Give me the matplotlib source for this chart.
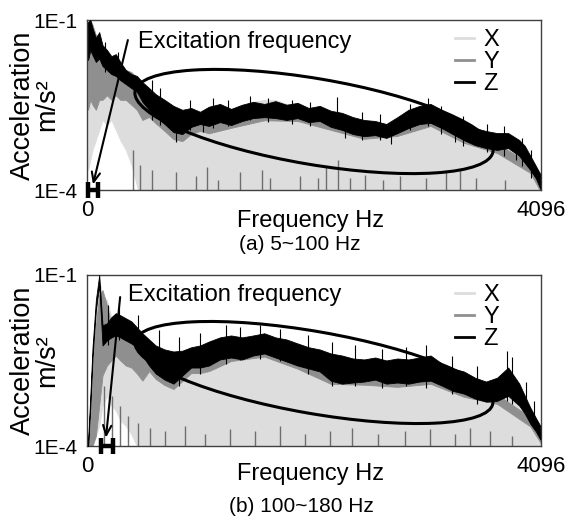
import matplotlib.pyplot as plt
import matplotlib.patches as mpatches
import matplotlib.transforms as mtransforms
from matplotlib.lines import Line2D
from matplotlib.ticker import NullLocator
import numpy as np

plt.rcParams['font.family'] = ['Liberation Sans', 'DejaVu Sans']

W, H = 567, 526

# frequency nodes (Hz) of the envelopes
freq = [10, 30, 50, 80, 110, 140, 180, 220, 260, 300, 350, 400, 450, 500,
        560, 620, 700, 780, 860, 940, 1020, 1100, 1200, 1300, 1400, 1500,
        1600, 1700, 1800, 1900, 2000, 2100, 2200, 2300, 2400, 2500, 2600,
        2700, 2800, 2900, 3000, 3100, 3200, 3300, 3400, 3500, 3600, 3700,
        3800, 3900, 3950, 4000, 4050, 4090]
y_freq = [10, 30, 50, 80, 110, 140, 180, 220, 260, 300, 350, 400, 450, 500,
          560, 620, 700, 780, 860, 940, 1020, 1100, 1300, 1600, 1900, 2200,
          2500, 2800, 3100, 3400, 3700, 4000, 4090]

# ---- (a) 5~100 Hz, values in 1E-3 m/s^2 ----
z_hi_a = [92, 100, 72, 48, 61, 36, 29.6, 23, 25, 18.2, 13.1, 11.1, 10.3, 8.0,
          6.3, 4.9, 3.9, 3.05, 2.6, 2.8, 2.4, 2.95, 3.3, 2.7, 3.2, 3.6, 3.3,
          3.7, 3.2, 3.45, 2.8, 3.05, 2.5, 2.3, 1.93, 1.72, 1.65, 1.46, 1.93,
          2.6, 3.05, 3.3, 2.6, 2.0, 1.58, 1.24, 1.1, 1.01, 1.01, 0.76, 0.6,
          0.4, 0.265, 0.19]
z_lo_a = [19.7, 29.6, 24, 18.2, 21, 15.4, 13.1, 11.1, 10.3, 8.7, 7.4, 6.3,
          5.4, 3.6, 2.6, 2.0, 1.46, 1.05, 0.97, 1.3, 1.46, 1.35, 1.58, 1.40,
          1.65, 1.86, 1.93, 1.86, 1.72, 1.86, 1.58, 1.65, 1.3, 1.15, 0.97,
          0.89, 0.93, 0.83, 1.01, 1.24, 1.46, 1.53, 1.24, 0.97, 0.76, 0.62,
          0.55, 0.51, 0.55, 0.40, 0.30, 0.225, 0.16, 0.105]
x_hi_a = [82, 92, 66.7, 44.4, 44.4, 29.6, 24.1, 19.7, 19.7, 16.1, 12.1, 10.7,
          9.5, 7.4, 3.9, 3.05, 2.4, 1.86, 1.72, 1.86, 1.86, 2.0, 2.4, 2.6,
          3.05, 3.6, 3.9, 3.9, 3.3, 2.8, 2.4, 2.2, 1.86, 1.58, 1.46, 1.35,
          1.35, 1.24, 1.46, 1.86, 2.2, 2.2, 1.86, 1.46, 1.15, 0.97, 0.83,
          0.76, 0.76, 0.55, 0.43, 0.31, 0.21, 0.14]
x_lo_a = [0.225, 0.34, 0.51, 0.76, 1.15, 1.72, 1.40, 1.72, 1.15, 0.76, 0.51,
          0.28, 0.12] + [0.05] * 41
y_hi_a = [92, 100, 82, 54, 54, 32, 24, 19.7, 19.7, 15.5, 13.1, 12.1, 9.5, 6.8,
          3.4, 2.6, 1.9, 1.37, 1.26, 1.7, 1.9, 1.75, 1.8, 2.5, 2.4, 1.7, 1.15,
          1.3, 2.0, 1.0, 0.66, 0.29, 0.14]
y_lo_a = [2.6, 3.9, 3.2, 2.6, 3.9, 3.9, 4.7, 3.9, 4.7, 3.9, 3.9, 3.2, 2.6,
          1.72, 1.95, 1.5, 1.1, 0.79, 0.73, 0.98, 1.1, 1.0, 1.25, 1.7, 1.65,
          1.15, 0.8, 0.9, 1.35, 0.68, 0.45, 0.2, 0.095]
dip_freq_a = [415, 478, 586, 803, 983, 1083, 1182, 1380, 1579, 1651, 1922,
              2084, 2156, 2265, 2373, 2508, 2670, 2824, 3058, 3239, 3365,
              3510, 3771]
dip_top_a = [0.51, 0.28, 0.225, 0.21, 0.18, 0.25, 0.15, 0.21, 0.225, 0.16,
             0.18, 0.16, 0.25, 0.34, 0.16, 0.185, 0.15, 0.18, 0.16, 0.21,
             0.225, 0.16, 0.15]
# single noisy excursions of Z (freq, lower end, upper end)
spk_freq_a = [162, 280, 586, 659, 803, 929, 1047, 1137, 1272, 1471, 1633,
              1850, 2012, 2255, 2326, 2481, 2643, 2742, 2915, 3076, 3194,
              3320, 3392, 3609, 3762, 3870, 3925, 4006]
spk_lo_a = [12.1, 9.5, 1.72, 1.40, 0.70, 1.15, 1.05, 1.24, 1.35, 1.72, 1.58,
            1.46, 1.35, 1.72, 0.83, 0.76, 0.76, 0.65, 1.15, 1.35, 0.97, 0.70,
            0.60, 0.47, 0.40, 0.34, 0.265, 0.16]
spk_hi_a = [40.9, 27.2, 8.7, 6.3, 2.58, 3.87, 2.38, 4.2, 3.87, 4.55, 4.2,
            3.87, 3.57, 4.35, 1.87, 2.38, 2.2, 1.58, 3.3, 4.2, 3.04, 1.40,
            2.03, 1.46, 1.35, 0.76, 0.83, 0.51]
band_a = (5, 100)

# ---- (b) 100~180 Hz ----
z_hi_b = [0.12, 0.76, 5.4, 36.2, 100, 13.1, 14.2, 18.2, 21.4, 19.7, 17.4,
          15.4, 12.1, 9.5, 7.4, 5.8, 4.94, 4.55, 4.7, 5.4, 5.8, 6.8, 8.05,
          8.7, 8.05, 8.7, 9.5, 8.05, 7.4, 6.3, 5.4, 4.94, 4.2, 3.87, 3.43,
          3.3, 3.57, 3.17, 3.43, 3.3, 3.57, 3.87, 2.8, 2.29, 2.03, 1.58, 1.35,
          1.58, 2.38, 1.24, 0.76, 0.47, 0.31, 0.225]
z_lo_b = [0.10, 0.51, 3.57, 24.1, 66.6, 5.8, 7.1, 8.05, 8.7, 8.05, 7.1, 6.3,
          5.4, 3.87, 2.58, 1.87, 1.46, 1.24, 1.72, 2.38, 2.38, 2.58, 3.3, 3.57,
          3.3, 3.87, 4.2, 3.57, 3.04, 2.58, 2.29, 2.03, 1.40, 1.24, 1.30, 1.35,
          1.46, 1.24, 1.30, 1.24, 1.35, 1.40, 1.15, 0.93, 0.83, 0.68, 0.60,
          0.62, 0.76, 0.51, 0.37, 0.245, 0.18, 0.13]
x_hi_b = [0.105, 0.62, 4.7, 32.1, 81.6, 44.4, 36.2, 18.2, 18.2, 16.1, 14.2,
          13.1, 10.7, 7.4, 4.2, 3.3, 2.58, 2.2, 2.58, 3.3, 3.57, 4.2, 4.94,
          5.8, 6.3, 6.8, 6.8, 5.8, 4.55, 3.87, 3.3, 3.04, 2.38, 2.03, 1.87,
          1.87, 2.03, 1.87, 1.87, 1.87, 2.03, 2.2, 1.72, 1.35, 1.15, 0.97,
          0.83, 0.90, 1.24, 0.76, 0.51, 0.34, 0.225, 0.15]
x_lo_b = [0.10, 0.10, 0.12, 0.15, 0.225, 0.51, 0.76, 0.51, 0.42, 0.28, 0.225,
          0.16, 0.10] + [0.05] * 41
y_hi_b = [0.10, 0.51, 2.58, 13.1, 44.4, 54.3, 29.6, 13.1, 10.7, 9.5, 8.05,
          7.1, 5.8, 4.2, 3.35, 2.4, 1.9, 1.6, 2.2, 3.1, 3.1, 3.35, 4.6, 5.5,
          3.4, 1.8, 1.75, 1.6, 1.8, 1.08, 0.8, 0.32, 0.17]
y_lo_b = [0.10, 0.10, 0.10, 0.15, 0.51, 1.72, 2.58, 3.17, 3.87, 3.17, 2.58,
          2.38, 1.87, 1.40, 2.06, 1.5, 1.17, 1.0, 1.38, 1.9, 1.9, 2.06, 3.1,
          3.7, 2.27, 1.23, 1.19, 1.09, 1.23, 0.73, 0.55, 0.22, 0.115]
dip_freq_b = [153, 226, 298, 370, 460, 568, 704, 884, 1065, 1290, 1516, 1742,
              1967, 2193, 2391, 2626, 2869, 3095, 3320, 3455, 3636, 3834]
dip_top_b = [1.15, 0.76, 0.51, 0.34, 0.25, 0.21, 0.185, 0.225, 0.16, 0.195,
             0.18, 0.225, 0.16, 0.185, 0.21, 0.16, 0.18, 0.195, 0.16, 0.21,
             0.18, 0.15]
spk_freq_b = [190, 289, 460, 650, 830, 1020, 1255, 1380, 1560, 1740, 1990,
              2210, 2420, 2660, 2880, 3060, 3290, 3520, 3790, 3830, 3960, 4030]
spk_lo_b = [5.8, 7.1, 4.7, 1.87, 1.15, 1.87, 2.8, 3.17, 3.3, 3.04, 1.87,
            1.15, 1.15, 1.05, 1.15, 1.05, 0.83, 0.55, 0.62, 0.55, 0.40, 0.21]
spk_hi_b = [29.6, 27.2, 19.7, 10.7, 8.05, 9.5, 13.1, 12.1, 13.1, 11.1, 8.7,
            6.8, 5.8, 4.94, 5.4, 5.8, 3.87, 2.58, 4.55, 3.57, 1.35, 0.62]
band_b = (125, 235)

labels = ["X", "Y", "Z"]
colors = ["#dddddd", "#8f8f8f", "black"]

fig = plt.figure(figsize=(W / 100, H / 100), dpi=100)
pix = mtransforms.Affine2D().scale(1 / W, -1 / H).translate(0, 1) + fig.transFigure


def mm(v):
    return np.array(v) * 1e-3


def draw_panel(ax, z_hi, z_lo, x_hi, x_lo, y_hi, y_lo, dip_f, dip_t,
               spk_f, spk_lo, spk_hi, band, tip, tail, text_xy, ell, xlab_y):
    ax.fill_between(freq, mm(x_lo), mm(x_hi), color=colors[0], lw=0.6, zorder=1)
    ax.fill_between(y_freq, mm(y_lo), mm(y_hi), color=colors[1], lw=0.6, zorder=2)
    ax.vlines(dip_f, 5e-5, mm(dip_t), color="#6e6e6e", lw=1.0, zorder=2)
    ax.fill_between(freq, mm(z_lo), mm(z_hi), color=colors[2], lw=0.6, zorder=3)
    ax.vlines(spk_f, mm(spk_lo), mm(spk_hi), color="black", lw=0.8, zorder=3)

    ax.set_yscale("log")
    ax.set_xlim(0, 4096)
    ax.set_ylim(1e-4, 1e-1)
    ax.set_xticks([0, 4096])
    ax.set_xticklabels(["0", "4096"], fontsize=16)
    ax.set_yticks([1e-4, 1e-1])
    ax.set_yticklabels(["1E-4", "1E-1"], fontsize=15)
    ax.yaxis.set_minor_locator(NullLocator())
    ax.tick_params(which="both", length=0)
    ax.tick_params(axis="y", pad=7)
    ax.tick_params(axis="x", pad=7)
    for sp in ax.spines.values():
        sp.set_color("#404040")
        sp.set_linewidth(1.0)

    ax.set_xlabel("Frequency Hz", fontsize=17)
    ax.xaxis.set_label_coords(0.493, xlab_y)
    ax.set_ylabel("Acceleration\nm/s²", fontsize=19.5, linespacing=0.9, va="center")
    ax.yaxis.set_label_coords(-0.115, 0.5)

    # excitation band marker
    f0, f1 = band
    for f in band:
        ax.plot([f, f], [7.2e-5, 1.4e-4], color="black", lw=3.2,
                solid_capstyle="butt", clip_on=False, zorder=5)
    ax.plot([f0, f1], [1.0e-4, 1.0e-4], color="black", lw=3.2,
            solid_capstyle="butt", clip_on=False, zorder=5)

    ax.annotate("", xy=tip, xycoords="data", xytext=tail, textcoords="axes fraction",
                arrowprops=dict(arrowstyle="->,head_length=0.7,head_width=0.3",
                                lw=1.5, color="black", shrinkA=0, shrinkB=0),
                zorder=6)
    ax.text(text_xy[0], text_xy[1], "Excitation frequency", fontsize=17,
            transform=ax.transAxes, ha="left", va="center", zorder=6)

    cx, cy, w, h, ang = ell
    ax.add_patch(mpatches.Ellipse((cx, cy), w, h, angle=ang, transform=pix,
                                  fill=False, ec="black", lw=2.2, clip_on=False,
                                  zorder=6))

    handles = [Line2D([], [], color=c, lw=2.0) for c in colors]
    ax.legend(handles, labels, loc="upper left", bbox_to_anchor=(0.81, 0.945),
              frameon=False, fontsize=17, handlelength=0.8, handletextpad=0.4,
              labelspacing=0.0, borderpad=0, borderaxespad=0)


ax1 = fig.add_axes([87 / W, 1 - 190 / H, 454 / W, 170 / H])
draw_panel(ax1, z_hi_a, z_lo_a, x_hi_a, x_lo_a, y_hi_a, y_lo_a,
           dip_freq_a, dip_top_a, spk_freq_a, spk_lo_a, spk_hi_a, band_a,
           tip=(54, 1.25e-4), tail=(0.090, 0.882), text_xy=(0.112, 0.868),
           ell=(314, 121.5, 363, 86, 9.6), xlab_y=-0.118)

ax2 = fig.add_axes([87 / W, 1 - 446 / H, 454 / W, 171 / H])
draw_panel(ax2, z_hi_b, z_lo_b, x_hi_b, x_lo_b, y_hi_b, y_lo_b,
           dip_freq_b, dip_top_b, spk_freq_b, spk_lo_b, spk_hi_b, band_b,
           tip=(171, 1.4e-4), tail=(0.073, 0.871), text_xy=(0.090, 0.883),
           ell=(314, 372.5, 363, 82, 9.9), xlab_y=-0.10)

fig.text(300 / W, 1 - 245 / H, "(a) 5~100 Hz", fontsize=15, ha="center", va="center")
fig.text(301 / W, 1 - 507 / H, "(b) 100~180 Hz", fontsize=15, ha="center", va="center")

fig.savefig("out.png", dpi=100)
